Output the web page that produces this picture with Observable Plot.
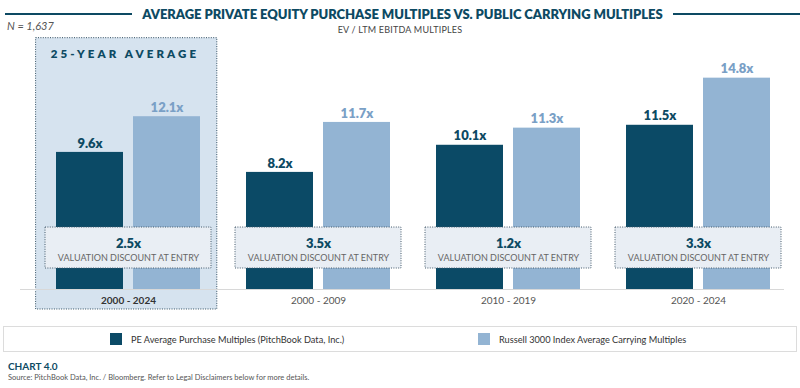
<!DOCTYPE html>
<html>
<head>
<meta charset="utf-8">
<script src="https://cdn.jsdelivr.net/npm/d3@7"></script>
<script src="https://cdn.jsdelivr.net/npm/@observablehq/plot@0.6"></script>
<style>
  html, body { margin: 0; padding: 0; background: #fff; }
  #wrap { position: relative; width: 800px; height: 388px; overflow: hidden; font-family: Lato, "Open Sans", sans-serif; }
  #wrap svg { position: absolute; left: 0; top: 0; }
  .titlebar { position: absolute; left: 5px; top: 5px; width: 795px; height: 18px; display: flex; align-items: center; }
  .titlebar .rule { flex: 1; height: 1.5px; background: #0d4a63; }
  .titlebar .t { padding: 0 10px; font-weight: 800; font-size: 13px; color: #0d4a63; white-space: nowrap; letter-spacing: -0.05px; }
  .n { position: absolute; left: 7px; top: 19px; font-style: italic; font-size: 11px; color: #555; }
  .sub { position: absolute; left: 0; width: 800px; top: 24px; text-align: center; font-size: 9px; color: #444; letter-spacing: 0.2px; }
  .legend { position: absolute; left: 3px; top: 326px; width: 794px; height: 26px; border: 1px solid #dcdcdc; box-sizing: border-box; }
  .legend .item { position: absolute; top: 6px; display: flex; align-items: center; font-size: 9.2px; color: #333; white-space: nowrap; }
  .legend .sw { width: 12px; height: 12px; margin-right: 9px; }
  .cap { position: absolute; left: 8px; top: 360px; font-weight: 700; font-size: 10px; color: #0d4a63; }
  .src { position: absolute; left: 8px; top: 373px; font-size: 7.5px; color: #555; }
</style>
</head>
<body>
<div id="wrap">
  <div class="titlebar"><div class="rule"></div><div class="t">AVERAGE PRIVATE EQUITY PURCHASE MULTIPLES VS. PUBLIC CARRYING MULTIPLES</div><div class="rule"></div></div>
  <div class="n">N = 1,637</div>
  <div class="sub">EV / LTM EBITDA MULTIPLES</div>
  <div class="legend" id="legend"></div>
  <div class="cap">CHART 4.0</div>
  <div class="src">Source: PitchBook Data, Inc. / Bloomberg. Refer to Legal Disclaimers below for more details.</div>
</div>
<script>
// ---- data ----
const categories = ["2000 - 2024", "2000 - 2009", "2010 - 2019", "2020 - 2024"];
const peValues = [9.6, 8.2, 10.1, 11.5];
const russellValues = [12.1, 11.7, 11.3, 14.8];
const discounts = [2.5, 3.5, 1.2, 3.3];
const seriesNames = ["PE Average Purchase Multiples (PitchBook Data, Inc.)", "Russell 3000 Index Average Carrying Multiples"];
const seriesColors = ["#0b4a66", "#93b4d3"];
const highlightLabel = "25-YEAR AVERAGE";
const discountLabel = "VALUATION DISCOUNT AT ENTRY";

const rows = categories.map((c, i) => ({cat: c, pe: peValues[i], ru: russellValues[i], disc: discounts[i]}));

const dark = "#0d4a63";
const fmt = v => v.toFixed(1) + "x";

const chart = Plot.plot({
  width: 800,
  height: 388,
  marginLeft: 20,
  marginRight: 16,
  marginTop: 0,
  marginBottom: 0,
  style: {fontFamily: "Lato, 'Open Sans', sans-serif", background: "transparent", overflow: "visible"},
  x: {type: "band", domain: categories, range: [31.4, 794.6], padding: 0, axis: null},
  y: {domain: [0, 15], range: [289, 289 - 15 * 14.28], axis: null},
  marks: [
    // 25-year highlight panel
    Plot.barY([categories[0]], {x: d => d, y1: -1.4, y2: 17.6, insetLeft: 2.6, insetRight: 6.2,
      fill: "#d6e3ef", stroke: "#2f4d60", strokeWidth: 1, strokeDasharray: "1,1.4"}),
    Plot.text([highlightLabel], {x: () => categories[0], y: 16.5, text: d => d, fontWeight: 800, fontSize: 11.5, fill: dark}),
    Plot.ruleY([0], {stroke: "#d8d8d8", strokeWidth: 1.2}),
    Plot.barY(rows, {x: "cat", y: "pe", insetLeft: 23, insetRight: 100, fill: seriesColors[0]}),
    Plot.barY(rows, {x: "cat", y: "ru", insetLeft: 100, insetRight: 23, fill: seriesColors[1]}),
    Plot.text(rows, {x: "cat", y: "pe", text: d => fmt(d.pe), dx: -38.5, dy: -9, fontWeight: 800, fontSize: 13, fill: dark}),
    Plot.text(rows, {x: "cat", y: "ru", text: d => fmt(d.ru), dx: 38.5, dy: -9, fontWeight: 800, fontSize: 13, fill: "#7aa0c6"}),
    // discount callouts
    Plot.barY(rows, {x: "cat", y1: 1.47, y2: 4.34, insetLeft: 12, insetRight: 12,
      fill: "#e9eef4", stroke: "#44596a", strokeWidth: 1, strokeDasharray: "1,1.4"}),
    Plot.text(rows, {x: "cat", y: 3.2, text: d => fmt(d.disc), fontWeight: 800, fontSize: 13, fill: dark}),
    Plot.text(rows, {x: "cat", y: 2.22, text: () => discountLabel, fontSize: 9, fill: "#666"}),
    // category labels
    Plot.text(rows.slice(0, 1), {x: "cat", y: 0, dy: 11.5, text: "cat", fontWeight: 700, fontSize: 10, fill: "#333"}),
    Plot.text(rows.slice(1), {x: "cat", y: 0, dy: 11.5, text: "cat", fontSize: 10, fill: "#555"})
  ]
});

d3.select(chart).selectAll("text").filter(function() { return this.textContent === highlightLabel; })
  .attr("letter-spacing", "3.1").attr("dx", "-3.5");

document.getElementById("wrap").prepend(chart);

// legend
const legend = document.getElementById("legend");
const legendX = [106, 474];
seriesNames.forEach((name, i) => {
  const it = document.createElement("div");
  it.className = "item";
  it.style.left = legendX[i] + "px";
  const sw = document.createElement("div");
  sw.className = "sw";
  sw.style.background = seriesColors[i];
  const tx = document.createElement("span");
  tx.textContent = name;
  it.append(sw, tx);
  legend.append(it);
});
</script>
</body>
</html>
